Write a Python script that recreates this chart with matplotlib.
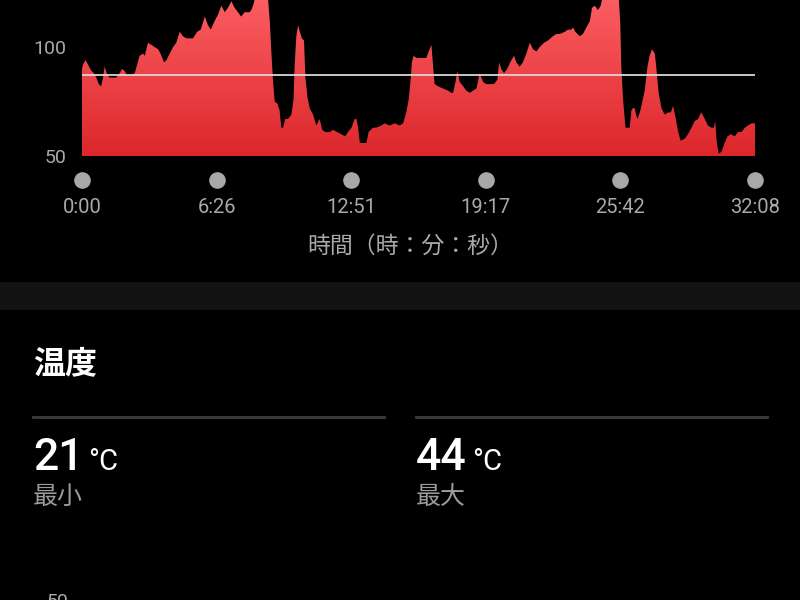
"""
Heart-rate panel + temperature summary, dark phone-app style.
"""
import numpy as np
import matplotlib
matplotlib.use("Agg")
import matplotlib.pyplot as plt
from matplotlib.colors import LinearSegmentedColormap
from matplotlib.patches import Polygon, Rectangle
from matplotlib.lines import Line2D

plt.rcParams["font.family"] = ["Roboto", "Noto Sans CJK JP", "DejaVu Sans"]

# elapsed seconds / heart rate (bpm)
SECONDS = [
    0, 3, 10, 17, 27, 34, 41, 48, 55, 60, 65, 73, 79, 89, 98, 108, 115, 122, 130, 139,
    151, 158, 165, 175, 180, 189, 199, 208, 218, 225, 235, 242, 248, 261, 270, 280, 289,
    299, 318, 330, 340, 352, 361, 369, 380, 390, 399, 409, 418, 428, 437, 447, 456, 466,
    480, 485, 490, 495, 504, 519, 530, 533, 538, 542, 547, 552, 560, 566, 571, 576, 582,
    590, 600, 606, 609, 614, 619, 624, 630, 636, 640, 646, 652, 662, 671, 681, 688, 697,
    710, 719, 731, 743, 754, 762, 772, 781, 786, 791, 796, 805, 815, 821, 834, 843, 858,
    867, 881, 896, 910, 920, 929, 936, 942, 945, 950, 958, 967, 972, 986, 996, 1001, 1006,
    1010, 1020, 1034, 1049, 1058, 1063, 1070, 1075, 1082, 1092, 1101, 1111, 1120, 1130,
    1139, 1149, 1158, 1168, 1180, 1190, 1195, 1201, 1209, 1218, 1230, 1238, 1244, 1254,
    1263, 1273, 1283, 1292, 1302, 1311, 1324, 1335, 1349, 1359, 1369, 1383, 1392, 1402,
    1407, 1413, 1426, 1435, 1445, 1455, 1461, 1469, 1478, 1486, 1490, 1500, 1520, 1535,
    1538, 1542, 1545, 1550, 1557, 1562, 1569, 1574, 1579, 1583, 1591, 1598, 1604, 1612,
    1620, 1626, 1633, 1641, 1645, 1652, 1660, 1669, 1679, 1687, 1693, 1700, 1708, 1715,
    1727, 1736, 1746, 1755, 1765, 1774, 1784, 1793, 1803, 1810, 1814, 1818, 1824, 1832,
    1841, 1849, 1859, 1870, 1879, 1889, 1899, 1908, 1918, 1928,
]
HEART_RATE = [
    90, 92, 94, 92, 89, 88, 86, 83, 82, 86, 91, 87, 86, 86, 86, 88, 90, 89, 87, 87,
    88, 92, 96, 97, 96, 102, 101, 100, 99, 97, 93, 94, 96, 100, 102, 107, 105,
    104, 104, 107, 108, 114, 110, 108, 112, 115, 119, 116, 118, 121, 118, 116, 114, 116,
    116, 117, 119, 122, 126, 128, 125, 122, 112, 99, 85, 75, 74, 71, 63, 63, 67,
    67, 69, 76, 91, 105, 110, 107, 104, 103, 86, 77, 72, 69, 64, 67, 62, 61,
    61, 62, 61, 60, 59, 61, 63, 67, 67, 63, 56, 56, 56, 61, 63, 63, 64,
    65, 64, 65, 64, 65, 70, 76, 86, 93, 96, 95, 95, 95, 95, 99, 101, 91,
    83, 82, 81, 80, 79, 79, 84, 89, 84, 82, 80, 79, 80, 81,
    88, 84, 83, 83, 83, 85, 93, 90, 88, 90, 94, 96, 93, 91,
    93, 97, 102, 99, 98, 100, 102, 103, 105, 106, 106, 107, 108, 108,
    109, 107, 105, 106, 109, 112, 118, 119, 117, 119, 122, 126, 128, 124,
    122, 111, 91, 76, 63, 63, 63, 71, 72, 72, 67, 70, 74, 80,
    91, 96, 99, 97, 91, 79, 72, 69, 70, 70, 73, 68, 61, 57,
    58, 60, 63, 66, 67, 70, 67, 64, 63, 63, 66, 57, 51, 52,
    56, 59, 60, 59, 61, 61, 63, 64, 65, 65,
]
AVG_HR = 87
Y_TICKS = [50, 100]
X_TICKS = [0, 386, 771, 1157, 1542, 1928]
X_LABEL = "時間（時：分：秒）"

TEMP_TITLE = "温度"
TEMP_MIN, TEMP_MAX = 21, 44
TEMP_UNIT = "°C"
TEMP_MIN_LABEL, TEMP_MAX_LABEL = "最小", "最大"

W, H = 800, 600
GRAY = "#a9a9a9"
CJK = ["Noto Sans CJK JP", "DejaVu Sans"]


def px(x, y):
    """pixel position (from top-left) -> figure fraction"""
    return x / W, 1 - y / H


def mmss(s):
    return f"{s // 60}:{s % 60:02d}"


fig = plt.figure(figsize=(8, 6), dpi=100, facecolor="black")

# --- heart-rate area chart --------------------------------------------------
ax = fig.add_axes([82 / W, 1 - 156 / H, (755 - 82) / W, 156 / H])
ax.set_facecolor("black")
t = np.array(SECONDS)
hr = np.array(HEART_RATE)
ymax = 121.6

verts = np.column_stack([np.r_[t[0], t, t[-1]], np.r_[50, hr, 50]])
shape = Polygon(verts, closed=True, facecolor="none", edgecolor="none")
ax.add_patch(shape)
cmap = LinearSegmentedColormap.from_list("hr", ["#dc272c", "#fb5d61"])
grad = np.linspace(0, 1, 256).reshape(-1, 1)
im = ax.imshow(grad, extent=[0, 1928, 50, ymax], origin="lower", aspect="auto",
               cmap=cmap, zorder=1)
im.set_clip_path(shape)

ax.axhline(AVG_HR, color="#d8d8d8", lw=1.3, zorder=3)

ax.set_xlim(0, 1928)
ax.set_ylim(50, ymax)
for sp in ax.spines.values():
    sp.set_visible(False)
ax.set_xticks([])
ax.set_yticks(Y_TICKS)
ax.set_yticklabels([str(v) for v in Y_TICKS])
ax.tick_params(axis="y", length=0, pad=11, labelsize=14, labelcolor=GRAY)

# time dots and labels under the chart
xt = ax.get_xaxis_transform()
ax.scatter(X_TICKS, [-0.154] * len(X_TICKS), s=120, color="#a8a8a8",
           transform=xt, clip_on=False, zorder=4)
for s in X_TICKS:
    ax.text(s, -0.327, mmss(s), transform=xt, ha="center", va="center",
            fontsize=14.5, color=GRAY)
fig.text(*px(410, 246), X_LABEL, ha="center", va="center", fontsize=16.5,
         color=GRAY, family=CJK)

# separator band
fig.patches.append(Rectangle(px(0, 310), 1, 28 / H, transform=fig.transFigure,
                             facecolor="#121212", edgecolor="none"))

# --- temperature summary ------------------------------------------------------
fig.text(*px(33, 364), TEMP_TITLE, ha="left", va="center", fontsize=23,
         fontweight="bold", color="white", family=CJK)
for x0, x1 in [(33, 384), (416, 767)]:
    fig.lines.append(Line2D([x0 / W, x1 / W], [1 - 417 / H] * 2,
                            transform=fig.transFigure, color="#3c3c3c", lw=2))

for x0, val, lab in [(33, TEMP_MIN, TEMP_MIN_LABEL), (416, TEMP_MAX, TEMP_MAX_LABEL)]:
    num = fig.text(*px(x0, 470), str(val), ha="left", va="baseline",
                   fontsize=32, fontweight="medium", color="white")
    fig.canvas.draw()
    bb = num.get_window_extent()
    fig.text(bb.x1 / W + 5 / W, 1 - 470 / H, TEMP_UNIT, ha="left", va="baseline",
             fontsize=21, color="white")
    fig.text(*px(x0, 497), lab, ha="left", va="center", fontsize=18,
             color="#9c9c9c", family=CJK)

# top of the next chart's axis label, cut off by the frame (as in the source)
fig.text(*px(68, 593), "50", ha="right", va="top", fontsize=14, color=GRAY)

fig.savefig("out.png", dpi=100, facecolor="black")
